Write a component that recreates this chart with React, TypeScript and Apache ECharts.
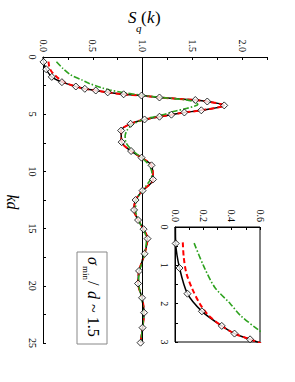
import React, { useEffect, useRef } from "react";
import * as echarts from "echarts";

// Simulation points (diamonds): kd and S_q(k)
const simKd = [0.43, 1.07, 1.74, 2.2, 2.58, 2.78, 2.93, 3.09, 3.26, 3.37, 3.54, 3.76, 3.89, 4.23, 4.66, 4.85, 5.04, 5.22, 5.46, 5.84, 6.43, 7.44, 8.22, 8.8, 9.47, 10.7, 11.68, 12.5, 13.37, 14.25, 15.05, 15.88, 17.2, 18.7, 19.8, 21.05, 22.35, 23.66, 24.97];
const simS = [0.005, 0.032, 0.088, 0.19, 0.33, 0.42, 0.53, 0.65, 0.81, 0.99, 1.17, 1.53, 1.65, 1.82, 1.59, 1.42, 1.29, 1.17, 1.02, 0.88, 0.785, 0.79, 0.885, 0.99, 1.09, 1.105, 1.0, 0.93, 0.915, 0.955, 1.01, 1.05, 1.02, 0.965, 0.955, 0.995, 1.015, 1.0, 0.98];

// Black solid theory curve
const blackKd = [0, ...simKd];
const blackS = [0.003, ...simS];

// Red dashed curve
const redKdLow = [0.4, 0.8, 1.2, 1.6, 2.0, 2.3];
const redSLow = [0.055, 0.062, 0.08, 0.12, 0.175, 0.235];
const redKd = [...redKdLow, ...simKd.slice(4)];
const redS = [...redSLow, ...simS.slice(4)];

// Green dash-dot curve
const greenKd = [0.42, 1.0, 1.57, 2.0, 2.3, 2.7, 2.88, 3.1, 3.35, 3.55, 3.75, 3.95, 4.15, 4.3, 4.5, 4.75, 5.05, 5.3, 5.6, 5.95, 6.4, 6.9, 7.5, 8.2, 8.8, 9.5, 10.2, 10.7, 11.7, 12.5, 13.4, 14.3, 15.1, 15.9, 17.2, 18.7, 19.8, 21.0, 22.4, 23.7, 25.0];
const greenS = [0.135, 0.2, 0.28, 0.39, 0.46, 0.595, 0.67, 0.8, 1.0, 1.2, 1.44, 1.53, 1.555, 1.52, 1.44, 1.32, 1.2, 1.08, 0.97, 0.89, 0.845, 0.825, 0.835, 0.9, 0.99, 1.07, 1.095, 1.08, 1.0, 0.94, 0.93, 0.96, 1.01, 1.04, 1.02, 0.97, 0.96, 0.99, 1.01, 1.0, 0.98];

const pairs = (s: number[], k: number[]) => s.map((v, i) => [v, k[i]]);

const FONT = "Liberation Serif";

export default function App() {
  const ref = useRef<HTMLDivElement>(null);
  useEffect(() => {
    if (!ref.current) return;
    const chart = echarts.init(ref.current, undefined, { renderer: "svg" });
    const axisLine = { show: true, lineStyle: { color: "#000", width: 1 } };
    const tick = { show: true, inside: true, length: 3, lineStyle: { color: "#000" } };
    const lab = { color: "#000", fontFamily: FONT, fontSize: 10 };
    const blackStyle = { color: "#000", width: 1.5 };
    const redStyle = { color: "#ff0000", width: 2, type: [5, 3] };
    const greenStyle = { color: "#2ea21f", width: 1.6, type: [6, 2, 1.5, 2] };
    const mk = (xi: number, withMark: boolean) => [
      {
        type: "line", xAxisIndex: xi, yAxisIndex: xi, data: pairs(blackS, blackKd), smooth: 0.3,
        showSymbol: false, symbol: "none", lineStyle: blackStyle, z: 2, clip: true,
        markLine: withMark ? { silent: true, symbol: "none", label: { show: false }, lineStyle: { color: "#000", width: 1, type: "solid" }, data: [{ xAxis: 1 }] } : undefined,
      },
      { type: "line", xAxisIndex: xi, yAxisIndex: xi, data: pairs(redS, redKd), smooth: 0.3, symbol: "none", lineStyle: redStyle, z: 3, clip: true },
      { type: "line", xAxisIndex: xi, yAxisIndex: xi, data: pairs(greenS, greenKd), smooth: 0.3, symbol: "none", lineStyle: greenStyle, z: 3, clip: true },
      {
        type: "scatter", xAxisIndex: xi, yAxisIndex: xi, data: pairs(simS, simKd), symbol: "diamond", symbolSize: [7, 7],
        itemStyle: { color: "#fff", borderColor: "#000", borderWidth: 1 }, z: 5, clip: true,
      },
    ];
    chart.setOption({
      animation: false,
      grid: [
        { left: 43, top: 57, width: 224, height: 286, show: false },
        { left: 175, top: 227, width: 85, height: 115, show: true, borderColor: "#000", borderWidth: 1, backgroundColor: "#fff" },
      ],
      xAxis: [
        {
          type: "value", gridIndex: 0, position: "top", min: 0, max: 2.25, interval: 0.25,
          axisLine, axisTick: tick, splitLine: { show: false },
          axisLabel: { ...lab, rotate: -90, margin: 5, formatter: (v: number) => (Math.abs(v * 2 - Math.round(v * 2)) < 1e-6 && v <= 2.0001 ? v.toFixed(1) : "") },
        },
        {
          type: "value", gridIndex: 1, position: "top", min: 0, max: 0.6, interval: 0.1,
          axisLine, axisTick: tick, splitLine: { show: false },
          axisLabel: { ...lab, rotate: -90, margin: 5, formatter: (v: number) => (Math.round(v * 10) % 2 === 0 ? v.toFixed(1) : "") },
        },
      ],
      yAxis: [
        {
          type: "value", gridIndex: 0, inverse: true, min: 0, max: 25, interval: 2.5,
          axisLine, axisTick: tick, splitLine: { show: false },
          axisLabel: { ...lab, rotate: -90, margin: 6, formatter: (v: number) => (Math.abs(v / 5 - Math.round(v / 5)) < 1e-6 ? String(Math.round(v)) : "") },
        },
        {
          type: "value", gridIndex: 1, inverse: true, min: 0, max: 3, interval: 0.5,
          axisLine, axisTick: tick, splitLine: { show: false },
          axisLabel: { ...lab, rotate: -90, margin: 6, formatter: (v: number) => (Math.abs(v - Math.round(v)) < 1e-6 ? String(Math.round(v)) : "") },
        },
      ],
      graphic: [
        { type: "text", left: 128, top: 9, style: { text: "S", fontFamily: FONT, fontSize: 17, fontStyle: "italic", fill: "#000" } },
        { type: "text", left: 136, top: 22, style: { text: "q", fontFamily: FONT, fontSize: 11, fontStyle: "italic", fill: "#000" } },
        { type: "text", left: 141, top: 9, style: { text: "(", fontFamily: FONT, fontSize: 17, fill: "#000" } },
        { type: "text", left: 147, top: 9, style: { text: "k", fontFamily: FONT, fontSize: 17, fontStyle: "italic", fill: "#000" } },
        { type: "text", left: 155, top: 9, style: { text: ")", fontFamily: FONT, fontSize: 17, fill: "#000" } },
        {
          type: "text", x: 12, y: 202, rotation: -Math.PI / 2,
          style: { text: "kd", fontFamily: FONT, fontSize: 16, fontStyle: "italic", fill: "#000", align: "center", verticalAlign: "middle" },
        },
        { type: "rect", shape: { x: 77, y: 252, width: 30, height: 92 }, style: { fill: "#fff", stroke: "#888", lineWidth: 1 } },
        {
          type: "group", x: 93, y: 298, rotation: -Math.PI / 2,
          children: [
            { type: "text", x: -41, y: 0, style: { text: "σ", fontFamily: FONT, fontSize: 16, fontStyle: "italic", fill: "#000", align: "left", verticalAlign: "middle" } },
            { type: "text", x: -32, y: 7, style: { text: "min", fontFamily: FONT, fontSize: 9, fill: "#000", align: "left", verticalAlign: "middle" } },
            { type: "text", x: -17, y: 0, style: { text: "/", fontFamily: FONT, fontSize: 16, fill: "#000", align: "left", verticalAlign: "middle" } },
            { type: "text", x: -7, y: 0, style: { text: "d", fontFamily: FONT, fontSize: 16, fontStyle: "italic", fill: "#000", align: "left", verticalAlign: "middle" } },
            { type: "text", x: 6, y: 0, style: { text: "~ 1.5", fontFamily: FONT, fontSize: 16, fill: "#000", align: "left", verticalAlign: "middle" } },
          ],
        },
      ],
      series: [...mk(0, true), ...mk(1, false)],
    });
    return () => chart.dispose();
  }, []);
  return <div ref={ref} style={{ position: "absolute", left: 0, top: 0, width: 295, height: 382 }} />;
}
